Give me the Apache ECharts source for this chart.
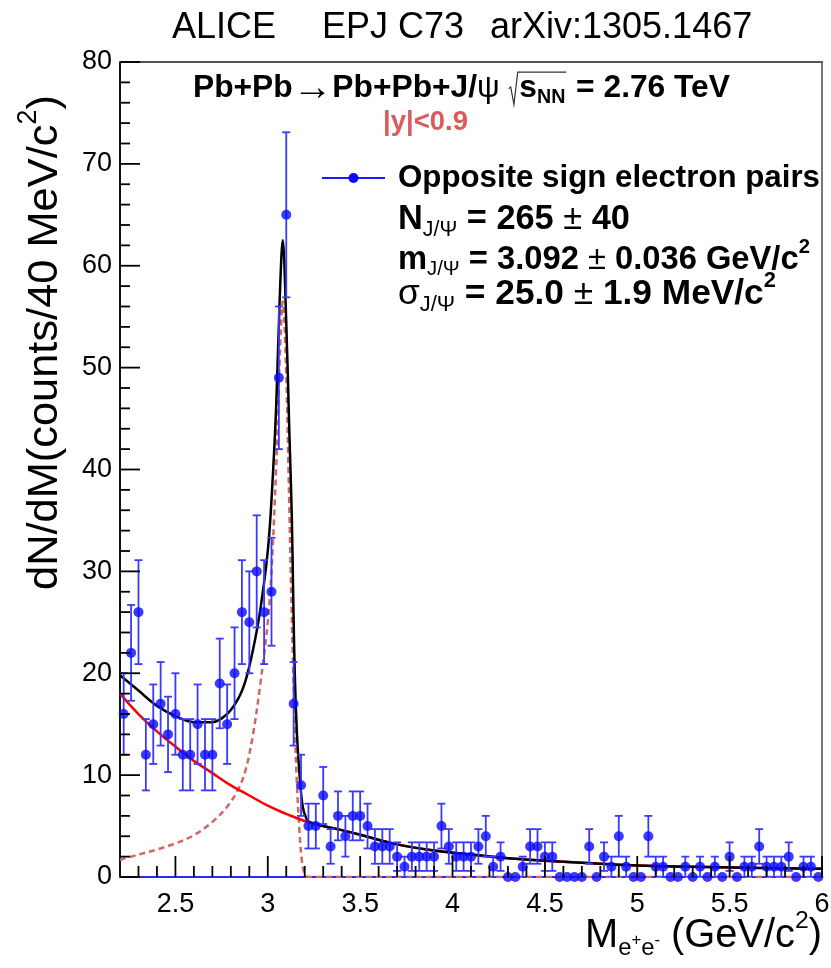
<!DOCTYPE html>
<html><head><meta charset="utf-8">
<script src="https://cdn.jsdelivr.net/npm/echarts@6/dist/echarts.min.js"></script>
<style>html,body{margin:0;padding:0;background:#fff}#c{width:831px;height:968px}</style>
</head><body><div id="c"></div>
<script>
// ---------- data ----------
const massBins = [
 2.22,2.26,2.30,2.34,2.38,2.42,2.46,2.50,2.54,2.58,
 2.62,2.66,2.70,2.74,2.78,2.82,2.86,2.90,2.94,2.98,
 3.02,3.06,3.10,3.14,3.18,3.22,3.26,3.30,3.34,3.38,
 3.42,3.46,3.50,3.54,3.58,3.62,3.66,3.70,3.74,3.78,
 3.82,3.86,3.90,3.94,3.98,4.02,4.06,4.10,4.14,4.18,
 4.22,4.26,4.30,4.34,4.38,4.42,4.46,4.50,4.54,4.58,
 4.62,4.66,4.70,4.74,4.78,4.82,4.86,4.90,4.94,4.98,
 5.02,5.06,5.10,5.14,5.18,5.22,5.26,5.30,5.34,5.38,
 5.42,5.46,5.50,5.54,5.58,5.62,5.66,5.70,5.74,5.78,
 5.82,5.86,5.90,5.94,5.98];
const counts = [
 16,22,26,12,15,17,14,16,12,12,
 15,12,12,19,15,20,26,25,30,26,
 28,49,65,17,9,5,5,8,3,6,
 4,6,6,5,3,3,3,2,1,2,
 2,2,2,5,3,2,2,2,3,4,
 1,2,0,0,1,3,3,2,2,0,
 0,0,0,3,0,2,1,4,1,0,
 0,4,1,1,0,0,1,0,1,0,
 1,0,2,0,1,1,3,1,1,1,
 2,0,1,1,0];
const countErrors = [
 4.0,4.7,5.1,3.5,3.9,4.1,3.7,4.0,3.5,3.5,
 3.9,3.5,3.5,4.4,3.9,4.5,5.1,5.0,5.5,5.1,
 5.3,7.0,8.1,4.1,3.0,2.2,2.2,2.8,1.7,2.4,
 2.0,2.4,2.4,2.2,1.7,1.7,1.7,1.4,1.0,1.4,
 1.4,1.4,1.4,2.2,1.7,1.4,1.4,1.4,1.7,2.0,
 1.0,1.4,0,0,1.0,1.7,1.7,1.4,1.4,0,
 0,0,0,1.7,0,1.4,1.0,2.0,1.0,0,
 0,2.0,1.0,1.0,0,0,1.0,0,1.0,0,
 1.0,0,1.4,0,1.0,1.0,1.7,1.0,1.0,1.0,
 1.4,0,1.0,1.0,0];

// fitted curves
const bkgX = [2.2,2.3,2.4,2.5,2.6,2.7,2.8,2.9,3.0,3.1,3.2,3.3,3.4,3.5,3.7,3.9,4.1,4.3,4.5,4.8,5.0,5.3,5.6,6.0];
const bkgY = [18.0,16.0,14.3,12.8,11.4,10.2,9.0,8.0,7.0,6.2,5.5,5.0,4.6,4.15,3.2,2.6,2.2,1.85,1.6,1.3,1.12,1.0,0.9,0.8];
const sigX = [2.2,2.3,2.4,2.5,2.6,2.7,2.78,2.84,2.88,2.92,2.96,3.0,3.02,3.045,3.063,3.081,3.099,3.112,3.124,3.135,3.146,3.158,3.17,3.185,3.2,3.22,4.0,5.0,6.0];
const sigY = [1.7,2.2,2.7,3.3,4.1,5.4,6.9,8.6,10.5,14.0,19.0,25.0,30.0,40.0,50.0,56.5,50.0,40.0,30.0,22.0,14.7,9.0,4.9,1.5,0.3,0,0,0,0];
const totX = [2.2,2.3,2.4,2.5,2.6,2.7,2.78,2.84,2.88,2.92,2.96,3.0,3.02,3.045,3.063,3.081,3.099,3.117,3.13,3.138,3.146,3.158,3.17,3.189,3.21,3.23,3.3,3.4,3.5,3.7,3.9,4.1,4.3,4.5,4.8,5.0,5.3,5.6,6.0];
const totY = [19.8,18.3,16.8,15.8,15.2,15.2,16.0,17.5,19.3,22.3,26.3,32.0,37.0,46.0,56.0,62.5,55.0,43.5,35.4,27.2,20.0,14.0,10.5,6.9,5.7,5.35,5.0,4.6,4.15,3.2,2.6,2.2,1.85,1.6,1.3,1.12,1.0,0.9,0.8];

const xMajorTicks = [2.5,3,3.5,4,4.5,5,5.5,6];
const xMinorTicks = [2.3,2.4,2.6,2.7,2.8,2.9,3.1,3.2,3.3,3.4,3.6,3.7,3.8,3.9,4.1,4.2,4.3,4.4,4.6,4.7,4.8,4.9,5.1,5.2,5.3,5.4,5.6,5.7,5.8,5.9];
const yMajorTicks = [0,10,20,30,40,50,60,70,80];
const yMinorTicks = [2,4,6,8,12,14,16,18,22,24,26,28,32,34,36,38,42,44,46,48,52,54,56,58,62,64,66,68,72,74,76,78];

// ---------- text layout helpers ----------
const FAM = '"Liberation Sans", Arial, Helvetica, sans-serif';
const mc = document.createElement('canvas').getContext('2d');
function segW(g, S) { mc.font = (g.b ? 'bold ' : '') + ((g.r || 1) * S) + 'px ' + FAM; return mc.measureText(g.t).width; }
function build(segs, S, x, y, color, out) {
  for (const g of segs) {
    if (g.rad) {
      const x0 = x; x += 0.34 * S;
      x = build(g.rad, S, x, y, color, out);
      out.push({type:'polyline', shape:{points:[[x0, y + 0.02*S],[x0 + 0.07*S, y - 0.03*S],[x0 + 0.17*S, y + 0.52*S],[x0 + 0.29*S, y - 0.5*S],[x + 0.03*S, y - 0.5*S]]},
        style:{stroke:'#333', fill:null, lineWidth:1.2}, z:100});
      x += 0.06 * S;
    } else {
      const sz = (g.r || 1) * S;
      out.push({type:'text', x:x, y:y + (g.dy || 0) * S, z:100,
        style:{text:g.t, fontSize:sz, fontFamily:FAM, fontWeight:g.b ? 'bold' : 'normal', fill:g.c || color, align:'left', verticalAlign:'middle'}});
      x += segW(g, S);
    }
  }
  return x;
}
function fitLine(segs, x0, x1, y, color) {
  const w = build(segs, 20, 0, 0, color, []);
  const S = 20 * (x1 - x0) / w;
  const out = [];
  build(segs, S, x0, y, color, out);
  return out;
}
function fixedLine(segs, S, x0, y, color) { const out = []; build(segs, S, x0, y, color, out); return out; }

const headerSegs = [{t:'Pb+Pb',b:1},{t:'\u2192',r:1.25,dy:0.02},{t:'Pb+Pb+J/',b:1},{t:'\u03c8'},{t:' '},{rad:[{t:'s',b:1},{t:'NN',b:1,r:0.62,dy:0.3}]},{t:' = 2.76 TeV',b:1}];
const rapSegs = [{t:'|y|<0.9',b:1,c:'#dc5a5a'}];
const legSegs = [{t:'Opposite sign electron pairs',b:1}];
const nSegs = [{t:'N',b:1},{t:'J/\u03a8',r:0.62,dy:0.3},{t:' = 265 ',b:1},{t:'\u00b1'},{t:' 40',b:1}];
const mSegs = [{t:'m',b:1},{t:'J/\u03a8',r:0.62,dy:0.3},{t:' = 3.092 ',b:1},{t:'\u00b1'},{t:' 0.036 GeV/c',b:1},{t:'2',b:1,r:0.62,dy:-0.38}];
const sSegs = [{t:'\u03c3',b:0},{t:'J/\u03a8',r:0.62,dy:0.3},{t:' = 25.0 ',b:1},{t:'\u00b1'},{t:' 1.9 MeV/c',b:1},{t:'2',b:1,r:0.62,dy:-0.38}];
const xTitleSegs = [{t:'M'},{t:'e',r:0.6,dy:0.32},{t:'+',r:0.42,dy:0.1},{t:'e',r:0.6,dy:0.32},{t:'-',r:0.42,dy:0.1},{t:' (GeV/c'},{t:'2',r:0.62,dy:-0.38},{t:')'}];
const yTitleSegs = [{t:'dN/dM(counts/40 MeV/c'},{t:'2',r:0.62,dy:-0.38},{t:')'}];

const graphics = [];
graphics.push(...fixedLine([{t:'ALICE'}], 36, 172, 28, '#000'));
graphics.push(...fixedLine([{t:'EPJ C73'}], 36, 322, 28, '#000'));
graphics.push(...fixedLine([{t:'arXiv:1305.1467'}], 36, 490, 28, '#000'));
graphics.push(...fitLine(headerSegs, 193, 730, 88, '#000'));
graphics.push(...fitLine(rapSegs, 383, 468, 122, '#000'));
graphics.push(...fitLine(legSegs, 398, 820, 178, '#000'));
graphics.push(...fitLine(nSegs, 398, 630, 220, '#000'));
graphics.push(...fitLine(mSegs, 398, 810, 260, '#000'));
graphics.push(...fitLine(sSegs, 398, 776, 294, '#000'));
graphics.push(...fitLine(xTitleSegs, 585, 822, 936, '#000'));
graphics.push({type:'group', x:45, y:590, rotation:Math.PI/2, children: fitLine(yTitleSegs, 0, 495, 0, '#000')});
// legend marker
graphics.push({type:'line', shape:{x1:322, y1:178, x2:385, y2:178}, style:{stroke:'#1a1aff', lineWidth:1.8}, z:100});
graphics.push({type:'circle', shape:{cx:353.5, cy:178, r:5}, style:{fill:'#0a0aff'}, z:100});

// ---------- chart ----------
const pts = massBins.map((m, i) => [m, counts[i]]);
const errData = [];
massBins.forEach((m, i) => { if (countErrors[i] > 0) errData.push([m, counts[i] - countErrors[i], counts[i] + countErrors[i]]); });
const zip = (a, b) => a.map((v, i) => [v, b[i]]);

const chart = echarts.init(document.getElementById('c'), null, {renderer:'canvas'});
chart.setOption({
  animation:false,
  backgroundColor:'#fff',
  grid:{left:120, right:9, top:62, bottom:91, containLabel:false, outerBoundsMode:'none'},
  xAxis:[
    {type:'value', min:2.2, max:6, position:'bottom',
     axisLine:{show:true, onZero:false, lineStyle:{color:'#2a2aff', width:2}},
     axisTick:{show:false},
     axisLabel:{show:true, customValues:xMajorTicks, fontSize:27, fontFamily:FAM, color:'#000', margin:14},
     splitLine:{show:false}},
    {type:'value', min:2.2, max:6, position:'top',
     axisLine:{show:true, onZero:false, lineStyle:{color:'#555', width:2}},
     axisTick:{show:false}, axisLabel:{show:false}, splitLine:{show:false}}
  ],
  yAxis:[
    {type:'value', min:0, max:80, interval:10, position:'left',
     axisLine:{show:true, onZero:false, lineStyle:{color:'#111', width:2}},
     axisTick:{show:false}, minorTick:{show:false},
     axisLabel:{fontSize:27, fontFamily:FAM, color:'#000', margin:8},
     splitLine:{show:false}},
    {type:'value', min:0, max:80, position:'right',
     axisLine:{show:true, onZero:false, lineStyle:{color:'#777', width:2}},
     axisTick:{show:false}, axisLabel:{show:false}, splitLine:{show:false}}
  ],
  series:[
    {type:'line', name:'signal', data:zip(sigX, sigY), showSymbol:false, symbol:'none', smooth:0.35,
     lineStyle:{color:'#d46565', width:2.5, type:[6,4]}, z:3},
    {type:'line', name:'background', data:zip(bkgX, bkgY), showSymbol:false, symbol:'none', smooth:0.5,
     lineStyle:{color:'#ff0000', width:2.5}, z:4},
    {type:'line', name:'total', data:zip(totX, totY), showSymbol:false, symbol:'none', smooth:0.35,
     lineStyle:{color:'#000', width:2.5}, z:5},
    {type:'custom', name:'errors', data:errData, clip:true, z:6,
     renderItem:function(params, api){
       const x = api.value(0), lo = api.value(1), hi = api.value(2);
       const t = api.coord([x, hi]), b = api.coord([x, lo]);
       const c = 4, st = {stroke:'#3a3aff', lineWidth:1.8};
       return {type:'group', children:[
         {type:'line', shape:{x1:t[0], y1:t[1], x2:b[0], y2:b[1]}, style:st},
         {type:'line', shape:{x1:t[0]-c, y1:t[1], x2:t[0]+c, y2:t[1]}, style:st},
         {type:'line', shape:{x1:b[0]-c, y1:b[1], x2:b[0]+c, y2:b[1]}, style:st}
       ]};
     }},
    {type:'scatter', name:'data', data:pts, symbol:'circle', symbolSize:10, itemStyle:{color:'#0a0aff'}, z:7}
  ]
});

// tick marks placed through the chart's own axis scales
const tickEls = [];
const toPx = v => chart.convertToPixel({xAxisIndex:0, yAxisIndex:0}, v);
xMajorTicks.forEach(v => { const p = toPx([v, 0]); tickEls.push({type:'line', shape:{x1:p[0], y1:p[1], x2:p[0], y2:p[1] - 21}, style:{stroke:'#000', lineWidth:1.8}, z:50}); });
xMinorTicks.forEach(v => { const p = toPx([v, 0]); tickEls.push({type:'line', shape:{x1:p[0], y1:p[1], x2:p[0], y2:p[1] - 11}, style:{stroke:'#000', lineWidth:1.8}, z:50}); });
yMajorTicks.forEach(v => { const p = toPx([2.2, v]); tickEls.push({type:'line', shape:{x1:p[0], y1:p[1], x2:p[0] + 20, y2:p[1]}, style:{stroke:'#000', lineWidth:1.8}, z:50}); });
yMinorTicks.forEach(v => { const p = toPx([2.2, v]); tickEls.push({type:'line', shape:{x1:p[0], y1:p[1], x2:p[0] + 10, y2:p[1]}, style:{stroke:'#000', lineWidth:1.8}, z:50}); });
chart.setOption({graphic: graphics.concat(tickEls)});
</script>
</body></html>
